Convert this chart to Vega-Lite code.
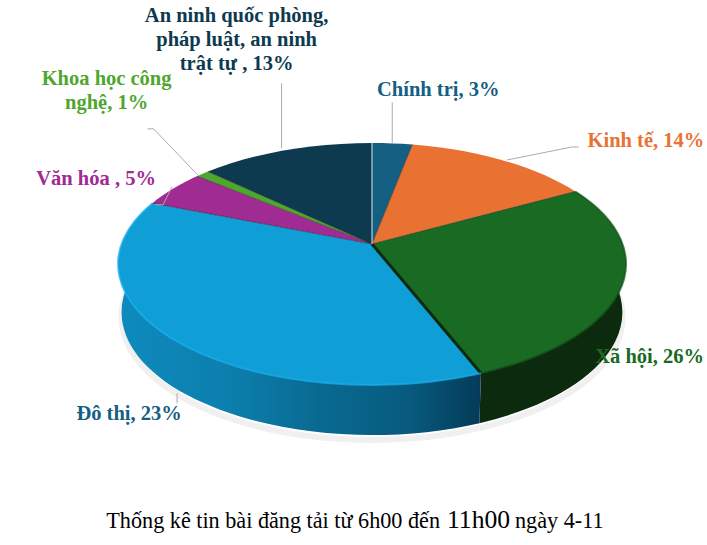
{
  "$schema": "https://vega.github.io/schema/vega-lite/v6.json",
  "width": 707,
  "height": 545,
  "padding": 0,
  "autosize": {"type": "none"},
  "background": "white",
  "view": {"stroke": null},
  "data": {
    "values": [
      {"name": "Chính trị", "share": 3, "label": "Chính trị, 3%"},
      {"name": "Kinh tế", "share": 14, "label": "Kinh tế, 14%"},
      {"name": "Xã hội", "share": 27, "label": "Xã hội, 26%"},
      {"name": "Đô thị", "share": 37, "label": "Đô thị, 23%"},
      {"name": "Văn hóa", "share": 5, "label": "Văn hóa , 5%"},
      {"name": "Khoa học công nghệ", "share": 1, "label": "Khoa học công\nnghệ, 1%"},
      {"name": "An ninh", "share": 13, "label": "An ninh quốc phòng,\npháp luật, an ninh\ntrật tự , 13%"}
    ]
  },
  "transform": [
    {"window": [{"op": "sum", "field": "share", "as": "s1"}], "frame": [null, 0]},
    {"calculate": "(datum.s1 - datum.share) * PI / 50", "as": "t0"},
    {"calculate": "datum.s1 * PI / 50", "as": "t1"},
    {"calculate": "(datum.t0 + datum.t1) / 2", "as": "tm"},
    {"calculate": "18.5 + 250.5 * sin(datum.t0) / (1 + 0.165 * cos(datum.t0))", "as": "x0"},
    {"calculate": "-28.5 - 117.7 * cos(datum.t0) / (1 + 0.165 * cos(datum.t0))", "as": "y0"},
    {"calculate": "18.5 + 250.5 * sin(datum.t1) / (1 + 0.165 * cos(datum.t1))", "as": "x1"},
    {"calculate": "-28.5 - 117.7 * cos(datum.t1) / (1 + 0.165 * cos(datum.t1))", "as": "y1"},
    {"calculate": "18.5 + 250.5 * sin(datum.tm) / (1 + 0.165 * cos(datum.tm))", "as": "xm"},
    {"calculate": "-28.5 - 117.7 * cos(datum.tm) / (1 + 0.165 * cos(datum.tm))", "as": "ym"},
    {"calculate": "18.5 + 247 * sin(datum.t0) / (1 + 0.165 * cos(datum.t0))", "as": "bx0"},
    {"calculate": "19.5 - 119.4 * cos(datum.t0) / (1 + 0.165 * cos(datum.t0))", "as": "by0"},
    {"calculate": "18.5 + 247 * sin(datum.t1) / (1 + 0.165 * cos(datum.t1))", "as": "bx1"},
    {"calculate": "19.5 - 119.4 * cos(datum.t1) / (1 + 0.165 * cos(datum.t1))", "as": "by1"},
    {"calculate": "'M18.5,-28.5L' + datum.x0 + ',' + datum.y0 + 'A254,121,0,0,1,' + datum.x1 + ',' + datum.y1 + 'Z'", "as": "face"},
    {"calculate": "'M' + datum.x0 + ',' + datum.y0 + 'L' + datum.bx0 + ',' + datum.by0 + 'A250.4,122.75,0,0,1,' + datum.bx1 + ',' + datum.by1 + 'L' + datum.x1 + ',' + datum.y1 + 'Z'", "as": "wall"},
    {"calculate": "'M' + datum.bx0 + ',' + (datum.by0 + 5) + 'A250.4,122.75,0,0,1,' + datum.bx1 + ',' + (datum.by1 + 5)", "as": "shadow"},
    {"calculate": "'M' + datum.x0 + ',' + datum.y0 + 'A254,121,0,0,1,' + datum.x1 + ',' + datum.y1", "as": "rim"},
    {"calculate": "'M18.5,-28.5L' + datum.x1 + ',' + datum.y1", "as": "edge"},
    {"calculate": "'M18.5,-28.5L' + datum.x0 + ',' + datum.y0", "as": "edge0"},
    {"calculate": "{'Chính trị': 'l0,-41', 'Kinh tế': 'm5,0l65,-13l7,0', 'Xã hội': 'm0,0', 'Đô thị': 'm5.6,55l0,10', 'Văn hóa': 'm-1,-2l-9,18l-8,0', 'Khoa học công nghệ': 'm-5,1l-44,-46l-6,0', 'An ninh': 'm-4,-2l0,-65'}[datum.name]", "as": "lead"},
    {"calculate": "'M' + datum.xm + ',' + datum.ym + datum.lead", "as": "leader"},
    {"calculate": "datum.xm + {'Chính trị': 46, 'Kinh tế': 144, 'Xã hội': 28, 'Đô thị': -42.4, 'Văn hóa': -77, 'Khoa học công nghệ': -96, 'An ninh': -49}[datum.name]", "as": "lx"},
    {"calculate": "datum.ym + {'Chính trị': -53, 'Kinh tế': -19, 'Xã hội': 71, 'Đô thị': 76, 'Văn hóa': -10, 'Khoa học công nghệ': -95, 'An ninh': -134}[datum.name]", "as": "ly"}
  ],
  "layer": [
    {
      "transform": [{"filter": "datum.name == 'Đô thị' || datum.name == 'Xã hội'"}],
      "mark": {"type": "point", "filled": false, "size": 4, "opacity": 1, "stroke": "#f0f0f0", "strokeWidth": 6},
      "encoding": {"shape": {"field": "shadow", "type": "nominal", "scale": null}}
    },
    {
      "transform": [{"filter": "datum.name == 'Xã hội'"}],
      "mark": {"type": "point", "filled": true, "size": 4, "opacity": 1, "fill": "#0B2A0E"},
      "encoding": {"shape": {"field": "wall", "type": "nominal", "scale": null}}
    },
    {
      "transform": [{"filter": "datum.name == 'Đô thị'"}],
      "mark": {
        "type": "point",
        "filled": true,
        "size": 4,
        "opacity": 1,
        "fill": {
          "gradient": "linear",
          "x1": 0,
          "x2": 1,
          "y1": 0,
          "y2": 0,
          "stops": [
            {"offset": 0, "color": "#0E8ABD"},
            {"offset": 0.3, "color": "#0C7FAD"},
            {"offset": 0.55, "color": "#096A91"},
            {"offset": 0.8, "color": "#075A7E"},
            {"offset": 1, "color": "#043B58"}
          ]
        }
      },
      "encoding": {"shape": {"field": "wall", "type": "nominal", "scale": null}}
    },
    {
      "mark": {"type": "point", "filled": true, "size": 4, "opacity": 1},
      "encoding": {
        "shape": {"field": "face", "type": "nominal", "scale": null},
        "fill": {
          "field": "name",
          "type": "nominal",
          "legend": null,
          "scale": {
            "domain": ["Chính trị", "Kinh tế", "Xã hội", "Đô thị", "Văn hóa", "Khoa học công nghệ", "An ninh"],
            "range": ["#156082", "#E97132", "#196B24", "#0F9ED5", "#A02B93", "#4EA72E", "#0E3A4F"]
          }
        }
      }
    },
    {
      "transform": [{"filter": "datum.name != 'An ninh' && datum.name != 'Xã hội'"}],
      "mark": {"type": "point", "filled": false, "size": 4, "opacity": 0.45, "stroke": "#1a1a1a", "strokeWidth": 1},
      "encoding": {"shape": {"field": "edge", "type": "nominal", "scale": null}}
    },
    {
      "transform": [{"filter": "datum.name == 'Xã hội'"}],
      "mark": {"type": "point", "filled": false, "size": 4, "opacity": 1, "stroke": "#0B2A0E", "strokeWidth": 3},
      "encoding": {"shape": {"field": "edge", "type": "nominal", "scale": null}}
    },
    {
      "transform": [{"filter": "datum.name == 'Chính trị'"}],
      "mark": {"type": "point", "filled": false, "size": 4, "opacity": 1, "stroke": "#dfe8ec", "strokeWidth": 1},
      "encoding": {"shape": {"field": "edge0", "type": "nominal", "scale": null}}
    },
    {
      "transform": [{"filter": "datum.name == 'Đô thị' || datum.name == 'Xã hội'"}],
      "mark": {"type": "point", "filled": false, "size": 4, "opacity": 0.7, "strokeWidth": 2},
      "encoding": {
        "shape": {"field": "rim", "type": "nominal", "scale": null},
        "stroke": {
          "field": "name",
          "type": "nominal",
          "legend": null,
          "scale": {"domain": ["Xã hội", "Đô thị"], "range": ["#135219", "#1DB0F0"]}
        }
      }
    },
    {
      "transform": [{"filter": "datum.name != 'Xã hội'"}],
      "mark": {"type": "point", "filled": false, "size": 4, "opacity": 1, "stroke": "#ababab", "strokeWidth": 1},
      "encoding": {"shape": {"field": "leader", "type": "nominal", "scale": null}}
    },
    {
      "mark": {"type": "text", "font": "Liberation Serif", "fontWeight": "bold", "fontSize": 20.5, "lineBreak": "\n", "lineHeight": 24, "align": "center", "baseline": "middle"},
      "encoding": {
        "x": {"field": "lx", "type": "quantitative", "axis": null, "scale": {"domain": [-353.5, 353.5], "nice": false}},
        "y": {"field": "ly", "type": "quantitative", "axis": null, "scale": {"domain": [-272.5, 272.5], "reverse": true, "nice": false}},
        "text": {"field": "label"},
        "fill": {
          "condition": {"test": "datum.name == 'Đô thị'", "value": "#156082"},
          "field": "name",
          "type": "nominal",
          "legend": null
        }
      }
    },
    {
      "data": {"values": [{"part": "Thống kê tin bài đăng tải từ 6h00 đến"}]},
      "mark": {"type": "text", "font": "Liberation Serif", "fontSize": 22.2, "align": "right", "baseline": "alphabetic", "fill": "black"},
      "encoding": {
        "x": {"datum": 86.5, "scale": {"domain": [-353.5, 353.5], "nice": false}},
        "y": {"datum": 255, "scale": {"domain": [-272.5, 272.5], "reverse": true, "nice": false}},
        "text": {"field": "part"}
      }
    },
    {
      "data": {"values": [{"part": "11h00"}]},
      "mark": {"type": "text", "font": "Liberation Serif", "fontSize": 25.6, "align": "left", "baseline": "alphabetic", "fill": "black"},
      "encoding": {
        "x": {"datum": 93.5, "scale": {"domain": [-353.5, 353.5], "nice": false}},
        "y": {"datum": 255, "scale": {"domain": [-272.5, 272.5], "reverse": true, "nice": false}},
        "text": {"field": "part"}
      }
    },
    {
      "data": {"values": [{"part": "ngày 4-11"}]},
      "mark": {"type": "text", "font": "Liberation Serif", "fontSize": 22.2, "align": "left", "baseline": "alphabetic", "fill": "black"},
      "encoding": {
        "x": {"datum": 161.5, "scale": {"domain": [-353.5, 353.5], "nice": false}},
        "y": {"datum": 255, "scale": {"domain": [-272.5, 272.5], "reverse": true, "nice": false}},
        "text": {"field": "part"}
      }
    }
  ]
}
